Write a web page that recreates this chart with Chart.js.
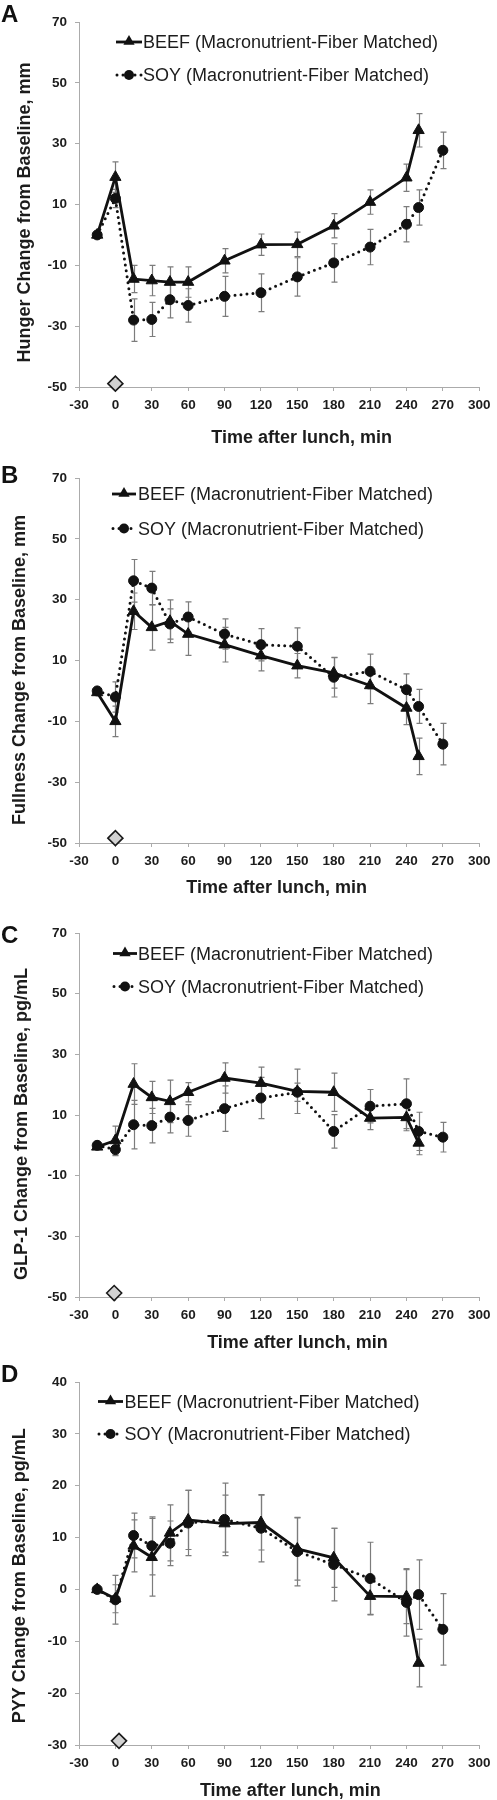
<!DOCTYPE html>
<html>
<head>
<meta charset="utf-8">
<script src="https://cdn.jsdelivr.net/npm/chart.js"></script>
<style>
html,body{margin:0;padding:0;background:#fff;}
#wrap{position:relative;width:497px;height:1800px;overflow:hidden;}
canvas{position:absolute;left:0;}
</style>
</head>
<body>
<div id="wrap">
<canvas id="c0" width="497" height="450" style="top:0px"></canvas>
<canvas id="c1" width="497" height="450" style="top:450px"></canvas>
<canvas id="c2" width="497" height="450" style="top:900px"></canvas>
<canvas id="c3" width="497" height="450" style="top:1350px"></canvas>
</div>
<script>
// ---------- DATA ----------
const beefTimes = [-15, 0, 15, 30, 45, 60, 90, 120, 150, 180, 210, 240, 250];
const soyTimes  = [-15, 0, 15, 30, 45, 60, 90, 120, 150, 180, 210, 240, 250, 270];
const xTickValues = [-30, 0, 30, 60, 90, 120, 150, 180, 210, 240, 270, 300];

// A: Hunger
const hungerBeef   = [0, 19, -14.5, -15, -15.5, -15.5, -8.5, -3.2, -3.1, 3, 10.8, 18.8, 34.4];
const hungerBeefSE = [0, 5, 4.5, 5, 5, 5, 4, 3.5, 4, 4, 4, 4.5, 5.5];
const hungerSoy    = [0, 12, -28, -27.8, -21.3, -23.2, -20.2, -19, -13.8, -9.2, -4, 3.5, 9, 27.8];
const hungerSoySE  = [0, 3, 7, 5.6, 6, 5.5, 6.6, 6.2, 6.3, 6.3, 5.8, 5.8, 5.8, 6];

// B: Fullness
const fullnessBeef   = [-0.5, -10, 26.2, 20.9, 22.9, 18.7, 15.2, 11.6, 8.3, 5.9, 1.8, -5.6, -21.5];
const fullnessBeefSE = [0, 5, 6, 7.5, 7, 7, 5.7, 5, 4, 5, 6, 5.5, 6];
const fullnessSoy    = [0, -2, 36.2, 33.8, 22, 24.3, 18.7, 15.2, 14.7, 4.5, 6.4, 0.4, -5.1, -17.5];
const fullnessSoySE  = [0, 5, 7, 5.5, 5, 5, 5, 5.3, 6, 6.5, 5.7, 5.2, 5.6, 6.8];

// C: GLP-1
const glp1Beef   = [-0.5, 1.6, 20.2, 15.8, 14.5, 17.5, 22.2, 20.5, 17.8, 17.5, 9, 9.2, 0.8];
const glp1BeefSE = [0, 4.7, 6.7, 5.3, 7, 3.2, 5, 5.3, 7.3, 6.3, 3.8, 4.4, 3.9];
const glp1Soy    = [0, -1.4, 6.8, 6.5, 9.3, 8.2, 12.1, 15.6, 17.5, 4.6, 12.9, 13.7, 4.6, 2.7];
const glp1SoySE  = [0, 2, 8, 5.7, 5.2, 5.2, 7.5, 6.8, 3, 5.5, 5.5, 8.2, 6.3, 4.9];

// D: PYY
const pyyBeef   = [0, -1.8, 8.4, 6.2, 10.9, 13.4, 12.7, 12.9, 7.8, 6.1, -1.3, -1.4, -14.2];
const pyyBeefSE = [0, 2.7, 5, 7.5, 5.4, 5.7, 5.5, 5.3, 6, 5.7, 3.5, 5.2, 4.6];
const pyySoy    = [0, -2, 10.4, 8.4, 8.9, 12.8, 13.5, 11.8, 7.3, 4.8, 2.1, -2.5, -1, -7.7];
const pyySoySE  = [0, 4.7, 4.3, 5.6, 4.3, 6.3, 7, 6.5, 6.6, 7, 7, 6.5, 6.7, 6.9];

// meal marker (diamond) per panel
const mealMarkerX = [0, 0, -1, 3];
const mealMarkerY = [-48.9, -48.4, -48.7, -29.2];

// y tick values per panel
const yTicksHunger   = [-50, -30, -10, 10, 30, 50, 70];
const yTicksFullness = [-50, -30, -10, 10, 30, 50, 70];
const yTicksGlp1     = [-50, -30, -10, 10, 30, 50, 70];
const yTicksPyy      = [-30, -20, -10, 0, 10, 20, 30, 40];

const panelLetters = ['A', 'B', 'C', 'D'];
const yTitles = [
  'Hunger Change from Baseline, mm',
  'Fullness Change from Baseline, mm',
  'GLP-1 Change from Baseline, pg/mL',
  'PYY Change from Baseline, pg/mL'
];
const xTitle = 'Time after lunch, min';
const legendLabels = ['BEEF (Macronutrient-Fiber Matched)', 'SOY (Macronutrient-Fiber Matched)'];

// ---------- LAYOUT (positions only) ----------
const layouts = [
  {top:22, bottom:387, right:483,   legX1:116, legX2:142, legTx:143,   legY:[42, 75],     letterBase:22, yTitleX:29.5, yTitleY:212.5, xTitleX:301.7, xTitleBase:443},
  {top:28, bottom:393, right:485,   legX1:112, legX2:136, legTx:138,   legY:[44, 78.5],   letterBase:33, yTitleX:24.5, yTitleY:220,   xTitleX:276.7, xTitleBase:443},
  {top:33, bottom:397, right:485,   legX1:113, legX2:137, legTx:138,   legY:[53.5, 86.5], letterBase:42.5, yTitleX:27, yTitleY:224,   xTitleX:297.5, xTitleBase:448},
  {top:32, bottom:395, right:483.5, legX1:98,  legX2:123, legTx:124.5, legY:[51.5, 84],   letterBase:32, yTitleX:25,   yTitleY:225.7, xTitleX:290.3, xTitleBase:446}
];

const panels = [
  {beef:hungerBeef,   beefSE:hungerBeefSE,   soy:hungerSoy,   soySE:hungerSoySE,   yTicks:yTicksHunger},
  {beef:fullnessBeef, beefSE:fullnessBeefSE, soy:fullnessSoy, soySE:fullnessSoySE, yTicks:yTicksFullness},
  {beef:glp1Beef,     beefSE:glp1BeefSE,     soy:glp1Soy,     soySE:glp1SoySE,     yTicks:yTicksGlp1},
  {beef:pyyBeef,      beefSE:pyyBeefSE,      soy:pyySoy,      soySE:pyySoySE,      yTicks:yTicksPyy}
];

// ---------- STYLE ----------
const FONT = '"Liberation Sans", Arial, Helvetica, sans-serif';
const INK = '#1c1c1c';
const AXIS = '#ababab';
const ERR = '#7c7c7c';
Chart.defaults.font.family = FONT;

function triPath(ctx, cx, cy, r) {
  ctx.beginPath();
  ctx.moveTo(cx, cy - r);
  ctx.lineTo(cx + r * Math.sin(2 * Math.PI / 3), cy - r * Math.cos(2 * Math.PI / 3));
  ctx.lineTo(cx + r * Math.sin(4 * Math.PI / 3), cy - r * Math.cos(4 * Math.PI / 3));
  ctx.closePath();
}

function makePanel(i) {
  const P = panels[i], L = layouts[i];
  const toPts = (ts, vs) => ts.map((t, k) => ({x: t, y: vs[k]}));
  const yMin = P.yTicks[0], yMax = P.yTicks[P.yTicks.length - 1];

  const errPlugin = {
    id: 'errbars' + i,
    beforeDatasetsDraw(chart) {
      const {ctx} = chart, x = chart.scales.x, y = chart.scales.y;
      ctx.save();
      ctx.strokeStyle = ERR;
      ctx.lineWidth = 1.2;
      [[beefTimes, P.beef, P.beefSE], [soyTimes, P.soy, P.soySE]].forEach(([ts, vs, es]) => {
        ts.forEach((t, k) => {
          const e = es[k];
          if (!e) return;
          const px = Math.round(x.getPixelForValue(t)) + 0.5;
          const y1 = y.getPixelForValue(vs[k] + e);
          const y2 = y.getPixelForValue(vs[k] - e);
          ctx.beginPath();
          ctx.moveTo(px, y1); ctx.lineTo(px, y2);
          ctx.moveTo(px - 3, y1); ctx.lineTo(px + 3, y1);
          ctx.moveTo(px - 3, y2); ctx.lineTo(px + 3, y2);
          ctx.stroke();
        });
      });
      ctx.restore();
    }
  };

  const decoPlugin = {
    id: 'deco' + i,
    afterDraw(chart) {
      const ctx = chart.ctx;
      ctx.save();
      // panel letter
      ctx.fillStyle = '#111';
      ctx.font = 'bold 24px ' + FONT;
      ctx.textAlign = 'left';
      ctx.textBaseline = 'alphabetic';
      ctx.fillText(panelLetters[i], 1, L.letterBase);
      // x title
      ctx.fillStyle = INK;
      ctx.font = 'bold 18px ' + FONT;
      ctx.textAlign = 'center';
      ctx.fillText(xTitle, L.xTitleX, L.xTitleBase);
      // y title
      ctx.save();
      ctx.translate(L.yTitleX, L.yTitleY);
      ctx.rotate(-Math.PI / 2);
      ctx.fillText(yTitles[i], 0, 0);
      ctx.restore();
      // legend
      const cx = (L.legX1 + L.legX2) / 2;
      // beef row
      let ly = L.legY[0];
      ctx.strokeStyle = '#111';
      ctx.fillStyle = '#111';
      ctx.lineWidth = 2.8;
      ctx.beginPath(); ctx.moveTo(L.legX1, ly); ctx.lineTo(L.legX2, ly); ctx.stroke();
      triPath(ctx, cx, ly - 0.5, 6.5); ctx.fill();
      // soy row
      ly = L.legY[1];
      ctx.lineWidth = 3;
      ctx.lineCap = 'round';
      ctx.setLineDash([0, 6]);
      ctx.beginPath(); ctx.moveTo(L.legX1 + 1, ly); ctx.lineTo(L.legX2, ly); ctx.stroke();
      ctx.setLineDash([]);
      ctx.beginPath(); ctx.arc(cx, ly, 5, 0, Math.PI * 2); ctx.fill();
      // texts
      ctx.fillStyle = INK;
      ctx.font = '18px ' + FONT;
      ctx.textAlign = 'left';
      ctx.fillText(legendLabels[0], L.legTx, L.legY[0] + 6.4);
      ctx.fillText(legendLabels[1], L.legTx, L.legY[1] + 6.4);
      ctx.restore();
    }
  };

  return new Chart(document.getElementById('c' + i), {
    type: 'line',
    data: {
      datasets: [
        {
          label: legendLabels[0],
          data: toPts(beefTimes, P.beef),
          borderColor: '#111', backgroundColor: '#111',
          borderWidth: 2.8, tension: 0, clip: false,
          pointStyle: 'triangle', pointRadius: 6.5, pointBorderWidth: 1,
          pointBackgroundColor: '#111', pointBorderColor: '#111'
        },
        {
          label: legendLabels[1],
          data: toPts(soyTimes, P.soy),
          borderColor: '#111', backgroundColor: '#111',
          borderWidth: 3, borderDash: [0, 6], borderCapStyle: 'round', tension: 0, clip: false,
          pointStyle: 'circle', pointRadius: 5, pointBorderWidth: 1,
          pointBackgroundColor: '#111', pointBorderColor: '#111'
        },
        {
          label: 'meal',
          data: [{x: mealMarkerX[i], y: mealMarkerY[i]}],
          showLine: false, clip: false,
          pointStyle: 'rectRot', pointRadius: 7.5, pointBorderWidth: 1.6,
          pointBackgroundColor: '#d2d2d2', pointBorderColor: '#1a1a1a'
        }
      ]
    },
    options: {
      responsive: false,
      animation: false,
      devicePixelRatio: 1,
      events: [],
      layout: {padding: {left: 0, top: L.top, right: 497 - L.right, bottom: 0}},
      plugins: {legend: {display: false}, tooltip: {enabled: false}, title: {display: false}},
      scales: {
        x: {
          type: 'linear', min: xTickValues[0], max: xTickValues[xTickValues.length - 1],
          afterBuildTicks: s => { s.ticks = xTickValues.map(v => ({value: v})); },
          afterFit: s => { s.height = 450 - L.bottom; },
          ticks: {autoSkip: false, maxRotation: 0, minRotation: 0, padding: 6.5, color: INK,
                  font: {size: 13.5, weight: 'bold'}},
          grid: {display: true, drawOnChartArea: false, drawTicks: true, tickLength: 4, color: AXIS, lineWidth: 1},
          border: {display: true, color: AXIS, width: 1}
        },
        y: {
          type: 'linear', min: yMin, max: yMax,
          afterBuildTicks: s => { s.ticks = P.yTicks.map(v => ({value: v})); },
          afterFit: s => { s.width = 79; },
          ticks: {autoSkip: false, padding: 8, color: INK, font: {size: 13.5, weight: 'bold'}},
          grid: {display: true, drawOnChartArea: false, drawTicks: true, tickLength: 4, color: AXIS, lineWidth: 1},
          border: {display: true, color: AXIS, width: 1}
        }
      }
    },
    plugins: [errPlugin, decoPlugin]
  });
}

for (let i = 0; i < 4; i++) makePanel(i);
</script>
</body>
</html>
